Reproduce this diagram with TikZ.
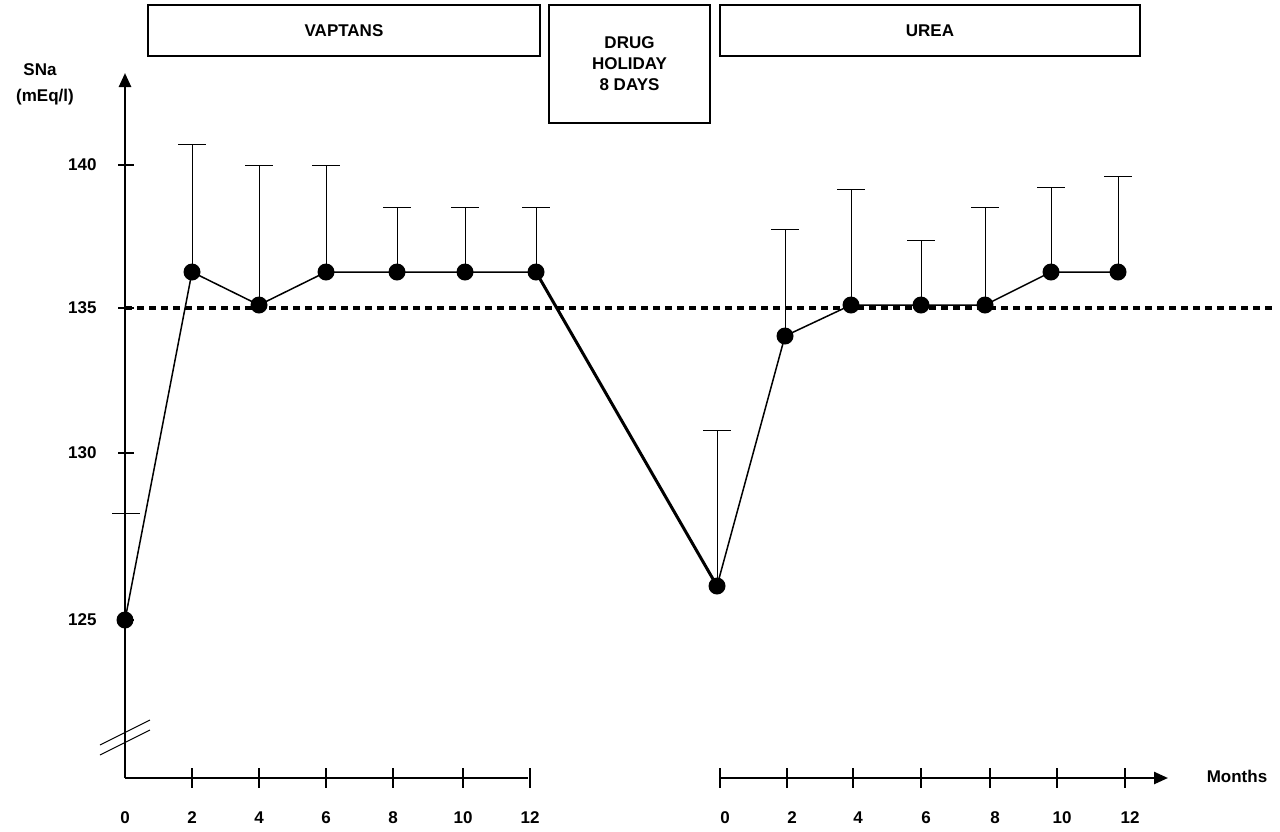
\documentclass[tikz,border=0pt]{standalone}
\usepackage{fontspec}
\setmainfont{Liberation Sans}
\usetikzlibrary{arrows.meta}
\begin{document}
\begin{tikzpicture}[x=1pt,y=-1pt,
  lbl/.style={font=\bfseries\fontsize{17}{20}\selectfont},
  hdr/.style={draw,line width=2.5pt,font=\bfseries\fontsize{17}{21}\selectfont,align=center,inner sep=0pt},
  dot/.style={circle,fill=black,minimum size=17pt,inner sep=0pt},
  err/.style={line width=0.6pt},
  ax/.style={line width=2.5pt}]
\useasboundingbox (0,0) rectangle (1280,831);
% headers
\node[hdr,minimum width=392pt,minimum height=51pt] (hv) at (344,30.5) {VAPTANS};
\node[hdr,minimum width=161pt,minimum height=118pt] (hd) at (629.5,64) {DRUG\\HOLIDAY\\8 DAYS};
\node[hdr,minimum width=420pt,minimum height=51pt] (hu) at (930,30.5) {UREA};
% axes
\coordinate (o) at (125,778);
\coordinate (ytop) at (125,73);
\draw[ax,-{Triangle[length=14pt,width=12pt]}] (o) -- (ytop);
\draw[ax] (o) -- (528,778);
\coordinate (r0) at (720,778);
\coordinate (rend) at (1168,778);
\draw[ax,-{Triangle[length=14pt,width=12pt]}] (r0) -- (rend);
\draw[line width=1pt] (100,755) -- (150,730) (100,745) -- (150,720);
\node[lbl] (sna) at (40,70) {SNa};
\node[lbl] (unit) at (45,97) {(mEq/l)};
\node[lbl] (months) at (1237,776) {Months};
\foreach \y/\t in {165/140,308/135,453/130,620/125}{
  \draw[ax] (118,\y) -- (134,\y);
  \node[lbl,anchor=east] at (100,\y) {\t};
}
\foreach \x/\t in {125/0,192/2,259/4,326/6,393/8,463/10,530/12}{
  \ifnum\t>0 \draw[ax] (\x,768) -- (\x,788);\fi
  \node[lbl] at (\x,818) {\t};
}
\foreach \x/\t in {720/0,787/2,853/4,921/6,990/8,1057/10,1125/12}{
  \draw[ax] (\x,768) -- (\x,788);
  \node[lbl] at (\x+5,818) {\t};
}
% reference line
\draw[line width=4pt,dash pattern=on 7pt off 5pt] (125,308) -- (1275,308);
% error bars
\draw[err] (125,620) -- (125,513) (112,513) -- (140,513);
\foreach \x/\y/\t in {192/272/144,259/305/165,326/272/165,397/272/207,465/272/207,536/272/207,
  717/586/430,785/336/229,851/305/189,921/305/240,985/305/207,1051/272/187,1118/272/176}{
  \draw[err] (\x,\y) -- (\x,\t) (\x-14,\t) -- (\x+14,\t);
}
% data lines
\draw[line width=1.5pt] (125,620) -- (192,272) -- (259,305) -- (326,272) -- (397,272) -- (465,272) -- (536,272);
\draw[line width=3pt] (536,272) -- (717,586);
\draw[line width=1.5pt] (717,586) -- (785,336) -- (851,305) -- (921,305) -- (985,305) -- (1051,272) -- (1118,272);
\foreach \x/\y [count=\i] in {125/620,192/272,259/305,326/272,397/272,465/272,536/272,717/586,785/336,851/305,921/305,985/305,1051/272,1118/272}
  \node[dot] (p\i) at (\x,\y) {};
\end{tikzpicture}
\end{document}
